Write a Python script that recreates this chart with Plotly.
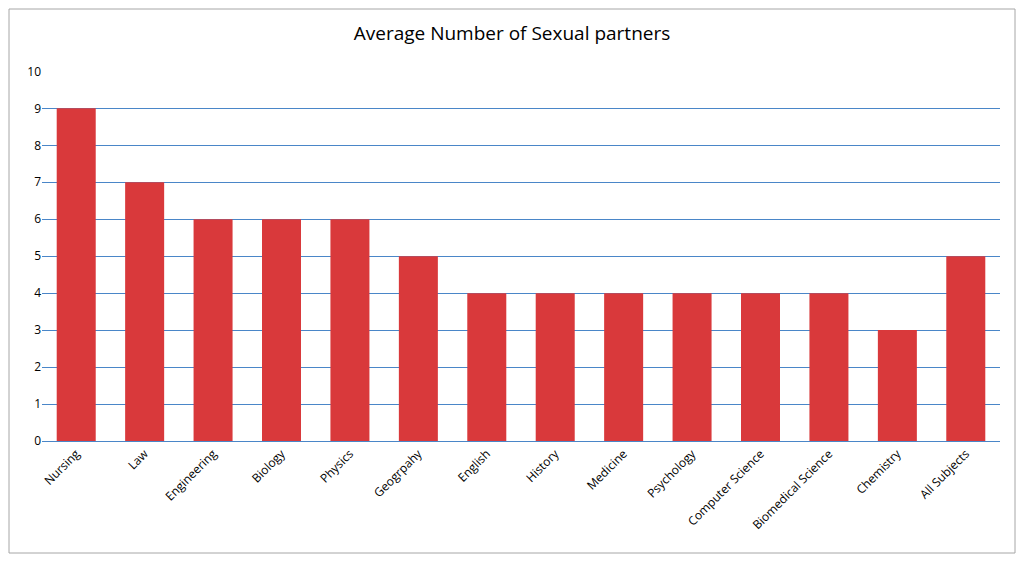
import plotly.graph_objects as go

categories = ["Nursing", "Law", "Engineering", "Biology", "Physics", "Geogrpahy", "English",
              "History", "Medicine", "Psychology", "Computer Science", "Biomedical Science",
              "Chemistry", "All Subjects"]
values = [9, 7, 6, 6, 6, 5, 4, 4, 4, 4, 4, 4, 3, 5]
y_ticks = list(range(0, 11))

# page has an 8px body margin; compensate
W, H = 1008, 546
ml, mr, mt, mb = 34, 16, 63, 113
pw, ph = W - ml - mr, H - mt - mb

fig = go.Figure(go.Bar(x=categories, y=values, marker_color="#D9393B", marker_line_width=0))
fig.update_layout(
    width=W, height=H,
    margin=dict(l=ml, r=mr, t=mt, b=mb, autoexpand=False),
    paper_bgcolor="white", plot_bgcolor="white",
    font=dict(family="Open Sans, Liberation Sans, sans-serif", size=12, color="#000"),
    title=dict(text="Average Number of Sexual partners", x=0.5, xanchor="center",
               y=1 - 25 / H, yanchor="middle", font=dict(size=19)),
    bargap=0.43,
    showlegend=False,
    xaxis=dict(tickangle=-45, showgrid=False, showline=True, linecolor="#4A86C8",
               ticks="", tickfont=dict(size=12), automargin=False),
    yaxis=dict(range=[0, 10.01], tickvals=y_ticks, showgrid=True, gridcolor="#4A86C8",
               gridwidth=1, zeroline=False, ticks="", tickfont=dict(size=12), automargin=False),
    shapes=[dict(type="rect", xref="paper", yref="paper",
                 x0=-(ml - 1) / pw, x1=1 + (mr - 1) / pw,
                 y0=-(mb - 1) / ph, y1=1 + (mt - 1) / ph,
                 line=dict(color="#A6A6A6", width=1))],
)
fig.write_html("out.html")
